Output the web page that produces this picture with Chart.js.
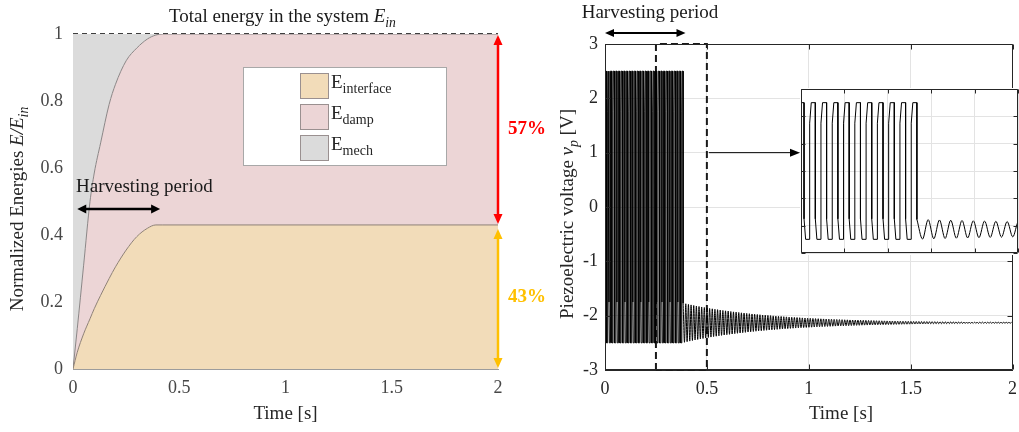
<!DOCTYPE html>
<html>
<head>
<meta charset="utf-8">
<title>Energy balance and piezoelectric voltage</title>
<script src="https://cdn.jsdelivr.net/npm/chart.js@4.4.1/dist/chart.umd.min.js"></script>
<style>
  html, body { margin: 0; padding: 0; background: #fff; width: 1019px; height: 432px; overflow: hidden; }
  canvas { position: absolute; }
  #energy  { left: 0;     top: 0; }
  #voltage { left: 545px; top: 0; }
  #zoom    { left: 800px; top: 88px; }
</style>
</head>
<body>
<canvas id="energy" width="545" height="432"></canvas>
<canvas id="voltage" width="480" height="432"></canvas>
<canvas id="zoom" width="240" height="167"></canvas>
<script>
// ---------- normalized energy shares (fractions of E_in) ----------
const timeE      = [0, 0.02, 0.05, 0.08, 0.10, 0.13, 0.17, 0.20, 0.25, 0.30, 0.35, 0.39, 0.42, 2.0];
const eInterface = [0, 0.05, 0.105, 0.15, 0.18, 0.22, 0.27, 0.305, 0.355, 0.395, 0.42, 0.43, 0.43, 0.43];
const eDamp      = [0, 0.07, 0.205, 0.35, 0.405, 0.455, 0.52, 0.545, 0.565, 0.563, 0.565, 0.567, 0.57, 0.57];
const eMech      = [1, 0.88, 0.69, 0.50, 0.415, 0.325, 0.21, 0.15, 0.08, 0.042, 0.015, 0.003, 0, 0];
const eTotalTime = [0, 2];
const eTotal     = [1, 1];
const energyXTicks = [0, 0.5, 1, 1.5, 2];
const energyYTicks = [0, 0.2, 0.4, 0.6, 0.8, 1];
const harvestSpanE = [0.02, 0.41];

// ---------- piezoelectric voltage ----------
const cyclePeriod = 0.013;                 // s, one mechanical cycle
const harvestFullCycles = 29;              // switched cycles before the source stops
// one switched (SSHI) cycle: phase within the period and voltage
const sshiPhase = [0, 0, 0.14, 0.5, 0.5, 0.64];
const sshiVolt  = [-2.5, 1.75, 2.5, 2.5, -1.75, -2.5];
// free decay after harvesting: mean level and peak amplitude of each cycle
const decayMid = -2.13;
const decayAmp = [
  0.360,0.349,0.338,0.328,0.318,0.308,0.299,0.290,0.281,0.272,
  0.264,0.256,0.248,0.241,0.233,0.226,0.219,0.213,0.206,0.200,
  0.194,0.188,0.182,0.177,0.171,0.166,0.161,0.156,0.151,0.147,
  0.142,0.138,0.134,0.130,0.126,0.122,0.118,0.115,0.111,0.108,
  0.104,0.101,0.098,0.095,0.092,0.089,0.087,0.084,0.082,0.079,
  0.076,0.074,0.072,0.070,0.068,0.066,0.064,0.062,0.060,0.058,
  0.056,0.054,0.053,0.051,0.050,0.048,0.047,0.045,0.044,0.043,
  0.041,0.040,0.039,0.037,0.036,0.035,0.034,0.033,0.032,0.031,
  0.030,0.029,0.028,0.027,0.027,0.026,0.025,0.024,0.023,0.023,
  0.022,0.021,0.021,0.020,0.019,0.019,0.018,0.018,0.017,0.017,
  0.016,0.016,0.015,0.015,0.014,0.014,0.013,0.013,0.013,0.012,
  0.012,0.012,0.011,0.011,0.011,0.010,0.010,0.010,0.009,0.009,
  0.009,0.008,0.008,0.008,0.008
];
const voltXTicks = [0, 0.5, 1, 1.5, 2];
const voltYTicks = [-3, -2, -1, 0, 1, 2, 3];
const zoomWindow = [0.25, 0.5];
const zoomXTicks = [0.25, 0.3, 0.35, 0.4, 0.45, 0.5];
const harvestSpanV = [0, 0.395];

// ---------- build point lists ----------
const harvestPts = [];
for (let k = 0; k < harvestFullCycles; k++) {
  sshiPhase.forEach((ph, i) => harvestPts.push({ x: (k + ph) * cyclePeriod, y: sshiVolt[i] }));
}
// last switched half cycle, ending on the positive plateau
for (let i = 0; i < 4; i++) {
  harvestPts.push({ x: (harvestFullCycles + sshiPhase[i]) * cyclePeriod, y: sshiVolt[i] });
}
const harvestEnd = (harvestFullCycles + 0.5) * cyclePeriod;
harvestPts.push({ x: harvestEnd, y: decayMid + decayAmp[0] });

const decayPts = [];
for (let j = 0; ; j++) {
  const t = harvestEnd + j * cyclePeriod / 2;
  const k = j >> 1;
  if (t > 2 || k >= decayAmp.length) break;
  decayPts.push({ x: t, y: j % 2 ? decayMid - decayAmp[k] : decayMid + decayAmp[k] });
}

const zoomBoxPts = [
  { x: zoomWindow[0], y: -3 }, { x: zoomWindow[0], y: 3 },
  { x: zoomWindow[1], y: 3 },  { x: zoomWindow[1], y: -3 },
  { x: zoomWindow[0], y: -3 }
];

// ---------- shared helpers ----------
const FONT = '"Liberation Serif", "Times New Roman", serif';
Chart.defaults.font.family = FONT;
Chart.defaults.color = '#262626';

// text made of runs: [text, {i: italic, s: subscript, b: bold, z: size}]
function drawRuns(ctx, runs, x, y, size, align, color) {
  const parts = runs.map(([t, st = {}]) => {
    const fs = st.z || (st.s ? size * 0.72 : size);
    const font = (st.b ? 'bold ' : '') + (st.i ? 'italic ' : '') + fs + 'px ' + FONT;
    ctx.font = font;
    return { t, font, w: ctx.measureText(t).width, dy: st.s ? size * 0.32 : 0 };
  });
  const total = parts.reduce((a, p) => a + p.w, 0);
  let cx = align === 'center' ? x - total / 2 : x;
  ctx.save();
  ctx.fillStyle = color;
  ctx.textBaseline = 'middle';
  ctx.textAlign = 'left';
  parts.forEach(p => { ctx.font = p.font; ctx.fillText(p.t, cx, y + p.dy); cx += p.w; });
  ctx.restore();
}

function arrow(ctx, x1, y1, x2, y2, color, lw, head, half, both) {
  const a = Math.atan2(y2 - y1, x2 - x1);
  const c = Math.cos(a), s = Math.sin(a);
  ctx.save();
  ctx.strokeStyle = color; ctx.fillStyle = color; ctx.lineWidth = lw;
  ctx.beginPath();
  ctx.moveTo(x1 + (both ? c * head * 0.7 : 0), y1 + (both ? s * head * 0.7 : 0));
  ctx.lineTo(x2 - c * head * 0.7, y2 - s * head * 0.7);
  ctx.stroke();
  const tip = (x, y, cc, ss) => {
    ctx.beginPath();
    ctx.moveTo(x, y);
    ctx.lineTo(x - head * cc + half * ss, y - head * ss - half * cc);
    ctx.lineTo(x - head * cc - half * ss, y - head * ss + half * cc);
    ctx.closePath();
    ctx.fill();
  };
  tip(x2, y2, c, s);
  if (both) tip(x1, y1, -c, -s);
  ctx.restore();
}

const fixedTicks = list => scale => { scale.ticks = list.map(v => ({ value: v })); };

// ---------- left panel: energy distribution ----------
const energyColors = { interface: '#f2dcb9', damp: '#ecd5d6', mech: '#dbdbdb' };

const energyDecor = {
  id: 'energyDecor',
  afterDraw(chart) {
    const { ctx, chartArea: a, scales: { x, y } } = chart;
    const cx = (a.left + a.right) / 2;
    drawRuns(ctx, [['Total energy in the system '], ['E', { i: 1 }], ['in', { i: 1, s: 1 }]], cx - 3, 17, 19, 'center', '#1a1a1a');
    drawRuns(ctx, [['Time [s]']], cx, 414, 19, 'center', '#262626');
    ctx.save();
    ctx.translate(18, 209);
    ctx.rotate(-Math.PI / 2);
    drawRuns(ctx, [['Normalized Energies '], ['E/E', { i: 1 }], ['in', { i: 1, s: 1 }]], 0, 0, 19, 'center', '#262626');
    ctx.restore();

    // legend
    ctx.save();
    ctx.fillStyle = '#fff';
    ctx.fillRect(243, 67, 203, 98);
    ctx.strokeStyle = '#a8a8a8'; ctx.lineWidth = 1;
    ctx.strokeRect(243.5, 67.5, 203, 98);
    const rows = [
      ['interface', energyColors.interface, 73],
      ['damp', energyColors.damp, 104],
      ['mech', energyColors.mech, 135]
    ];
    rows.forEach(([sub, col, top]) => {
      ctx.fillStyle = col;
      ctx.fillRect(300, top, 28, 25);
      ctx.strokeStyle = '#9a9090';
      ctx.strokeRect(300.5, top + 0.5, 28, 25);
      drawRuns(ctx, [['E'], [sub, { s: 1, z: 14 }]], 331, top + 10, 19, 'left', '#262626');
    });
    ctx.restore();

    // share arrows at the end of the record
    const last = timeE.length - 1;
    const xr = x.getPixelForValue(timeE[last]);
    const split = eInterface[last];
    const top = eInterface[last] + eDamp[last] + eMech[last];
    const yTop = y.getPixelForValue(top), ySplit = y.getPixelForValue(split), yZero = y.getPixelForValue(0);
    arrow(ctx, xr, yTop + 1, xr, ySplit - 1, '#ff0000', 2.5, 10, 4.5, true);
    arrow(ctx, xr, ySplit + 4, xr, yZero - 1, '#ffc000', 2.5, 10, 4.5, true);
    drawRuns(ctx, [[Math.round(eDamp[last] * 100) + '%', { b: 1 }]], xr + 10, (yTop + ySplit) / 2, 19, 'left', '#ff0000');
    drawRuns(ctx, [[Math.round(eInterface[last] * 100) + '%', { b: 1 }]], xr + 10, (ySplit + yZero) / 2, 19, 'left', '#ffc000');

    // harvesting period
    const yh = 209;
    drawRuns(ctx, [['Harvesting period']], 76, yh - 22, 19, 'left', '#1a1a1a');
    arrow(ctx, x.getPixelForValue(harvestSpanE[0]), yh, x.getPixelForValue(harvestSpanE[1]), yh, '#000', 2.5, 9, 4.5, true);
  }
};

const xy = (xs, ys) => xs.map((t, i) => ({ x: t, y: ys[i] }));

new Chart(document.getElementById('energy'), {
  type: 'line',
  data: {
    datasets: [
      { label: 'E_interface', data: xy(timeE, eInterface), stack: 'E', fill: 'origin',
        backgroundColor: energyColors.interface, borderColor: '#8e8076', borderWidth: 1,
        cubicInterpolationMode: 'monotone' },
      { label: 'E_damp', data: xy(timeE, eDamp), stack: 'E', fill: '-1',
        backgroundColor: energyColors.damp, borderColor: '#8a8686', borderWidth: 1,
        cubicInterpolationMode: 'monotone' },
      { label: 'E_mech', data: xy(timeE, eMech), stack: 'E', fill: '-1',
        backgroundColor: energyColors.mech, borderColor: 'rgba(0,0,0,0)', borderWidth: 0,
        cubicInterpolationMode: 'monotone' },
      { label: 'E_in', data: xy(eTotalTime, eTotal), stack: 'total', fill: false,
        borderColor: '#000', borderWidth: 1.6, borderDash: [5, 4], clip: false }
    ]
  },
  options: {
    responsive: false, animation: false, devicePixelRatio: 1,
    layout: { padding: { top: 34, right: 47, bottom: 0, left: 0 } },
    elements: { point: { radius: 0 } },
    plugins: { legend: { display: false }, tooltip: { enabled: false } },
    scales: {
      x: {
        type: 'linear', min: 0, max: 2,
        afterBuildTicks: fixedTicks(energyXTicks),
        ticks: { color: '#474747', font: { size: 18 }, padding: 8, callback: v => String(v) },
        grid: { display: false, drawTicks: false },
        border: { display: true, color: '#9c9c9c', width: 1 },
        afterFit: s => { s.height = 63; }
      },
      y: {
        type: 'linear', min: 0, max: 1, stacked: true,
        afterBuildTicks: fixedTicks(energyYTicks),
        ticks: { color: '#474747', font: { size: 18 }, padding: 10, callback: v => String(v) },
        grid: { display: false, drawTicks: false },
        border: { display: true, color: '#9c9c9c', width: 1 },
        afterFit: s => { s.width = 73; }
      }
    }
  },
  plugins: [energyDecor]
});

// ---------- right panel: piezo voltage ----------
const voltCanvasLeft = 545;
const insetPageLeft = 801;

function boxAndTicks(ctx, a, x, y, xt, yt, len) {
  ctx.save();
  ctx.strokeStyle = '#262626';
  ctx.lineWidth = 1;
  const L = Math.round(a.left) + 0.5, R = Math.round(a.right) - 0.5;
  const T = Math.round(a.top) + 0.5, B = Math.round(a.bottom) - 0.5;
  ctx.beginPath();
  ctx.rect(L, T, R - L, B - T);
  yt.forEach(v => {
    const p = Math.round(y.getPixelForValue(v)) + 0.5;
    ctx.moveTo(L, p); ctx.lineTo(L + len, p);
    ctx.moveTo(R, p); ctx.lineTo(R - len, p);
  });
  xt.forEach(v => {
    const p = Math.round(x.getPixelForValue(v)) + 0.5;
    ctx.moveTo(p, B); ctx.lineTo(p, B - len);
    ctx.moveTo(p, T); ctx.lineTo(p, T + len);
  });
  ctx.stroke();
  ctx.restore();
}

const voltDecor = {
  id: 'voltDecor',
  afterDraw(chart) {
    const { ctx, chartArea: a, scales: { x, y } } = chart;
    boxAndTicks(ctx, a, x, y, voltXTicks, voltYTicks, 5);
    drawRuns(ctx, [['Harvesting period']], 650 - voltCanvasLeft, 13, 19, 'center', '#1a1a1a');
    arrow(ctx, x.getPixelForValue(harvestSpanV[0]), 33, x.getPixelForValue(harvestSpanV[1]), 33, '#000', 2, 9, 4, true);
    const ya = y.getPixelForValue(1);
    arrow(ctx, x.getPixelForValue(zoomWindow[1]) + 2, ya, insetPageLeft - voltCanvasLeft - 1, ya, '#000', 1, 10, 4, false);
    drawRuns(ctx, [['Time [s]']], 841 - voltCanvasLeft, 414, 19, 'center', '#262626');
    ctx.save();
    ctx.translate(568 - voltCanvasLeft, 214);
    ctx.rotate(-Math.PI / 2);
    drawRuns(ctx, [['Piezoelectric voltage '], ['v', { i: 1 }], ['p', { i: 1, s: 1 }], [' [V]']], 0, 0, 19, 'center', '#262626');
    ctx.restore();
  }
};

const signalSets = () => ([
  { data: harvestPts, borderColor: '#000', borderWidth: 1, tension: 0, fill: false },
  { data: decayPts, borderColor: '#000', borderWidth: 1, cubicInterpolationMode: 'monotone', fill: false }
]);

new Chart(document.getElementById('voltage'), {
  type: 'line',
  data: {
    datasets: [
      ...signalSets(),
      { data: zoomBoxPts, borderColor: '#1a1a1a', borderWidth: 2, borderDash: [7, 4], tension: 0, fill: false, clip: false }
    ]
  },
  options: {
    responsive: false, animation: false, devicePixelRatio: 1,
    layout: { padding: { top: 44, right: 7, bottom: 0, left: 0 } },
    elements: { point: { radius: 0 } },
    plugins: { legend: { display: false }, tooltip: { enabled: false } },
    scales: {
      x: {
        type: 'linear', min: 0, max: 2,
        afterBuildTicks: fixedTicks(voltXTicks),
        ticks: { color: '#262626', font: { size: 18 }, padding: 8, callback: v => String(v) },
        grid: { color: '#e3e3e3', drawTicks: false },
        border: { display: true, color: '#262626', width: 1 },
        afterFit: s => { s.height = 62; }
      },
      y: {
        type: 'linear', min: -3, max: 3,
        afterBuildTicks: fixedTicks(voltYTicks),
        ticks: { color: '#262626', font: { size: 18 }, padding: 7, callback: v => String(v) },
        grid: { color: '#e3e3e3', drawTicks: false },
        border: { display: true, color: '#262626', width: 1 },
        afterFit: s => { s.width = 60; }
      }
    }
  },
  plugins: [voltDecor]
});

// ---------- inset: close-up of the end of the harvesting period ----------
const zoomDecor = {
  id: 'zoomDecor',
  beforeDraw(chart) {
    const { ctx } = chart;
    ctx.save();
    ctx.fillStyle = '#fff';
    ctx.fillRect(0, 0, chart.width, chart.height);
    ctx.restore();
  },
  afterDraw(chart) {
    const { ctx, chartArea: a, scales: { x, y } } = chart;
    boxAndTicks(ctx, a, x, y, zoomXTicks, voltYTicks, 4);
  }
};

new Chart(document.getElementById('zoom'), {
  type: 'line',
  data: { datasets: signalSets() },
  options: {
    responsive: false, animation: false, devicePixelRatio: 1,
    layout: { padding: { top: 1, right: 22, bottom: 2, left: 1 } },
    elements: { point: { radius: 0 } },
    plugins: { legend: { display: false }, tooltip: { enabled: false } },
    scales: {
      x: {
        type: 'linear', min: zoomWindow[0], max: zoomWindow[1],
        afterBuildTicks: fixedTicks(zoomXTicks),
        ticks: { display: false },
        grid: { color: '#e3e3e3', drawTicks: false },
        border: { display: false },
        afterFit: s => { s.height = 0; }
      },
      y: {
        type: 'linear', min: -3, max: 3,
        afterBuildTicks: fixedTicks(voltYTicks),
        ticks: { display: false },
        grid: { color: '#e3e3e3', drawTicks: false },
        border: { display: false },
        afterFit: s => { s.width = 0; }
      }
    }
  },
  plugins: [zoomDecor]
});
</script>
</body>
</html>
